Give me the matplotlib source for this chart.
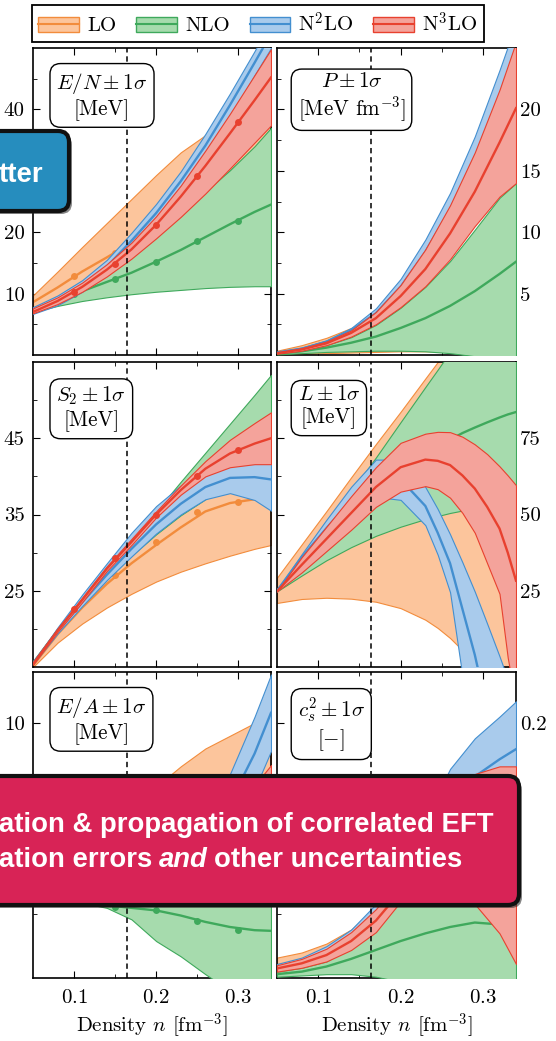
import numpy as np
import matplotlib
matplotlib.use("Agg")
import matplotlib.pyplot as plt
from matplotlib.patches import FancyBboxPatch, Patch
from matplotlib.lines import Line2D
from matplotlib.transforms import IdentityTransform

plt.rcParams.update({
    "font.family": "serif",
    "font.serif": ["cmr10"],
    "mathtext.fontset": "cm",
    "axes.formatter.use_mathtext": True,
    "axes.linewidth": 1.2,
    "xtick.direction": "in",
    "ytick.direction": "in",
    "xtick.top": True,
    "ytick.right": True,
    "xtick.major.size": 5,
    "ytick.major.size": 5,
    "xtick.minor.size": 3,
    "ytick.minor.size": 3,
    "font.size": 15,
})

W, H = 556, 1041

DENSITY = [0.05, 0.08, 0.11, 0.14, 0.17, 0.20, 0.23, 0.26, 0.29, 0.32, 0.34]
L_DENSITY = [0.05, 0.08, 0.11, 0.14, 0.17, 0.20, 0.23, 0.245, 0.26, 0.275,
             0.29, 0.305, 0.32, 0.33, 0.34]
MARKER_DENSITY = [0.10, 0.15, 0.20, 0.25, 0.30]
N_SAT = 0.164

ORDERS = ["LO", "NLO", r"N$^2$LO", r"N$^3$LO"]
LINE_COLORS = ["#f28c3c", "#3fa95c", "#438fd0", "#e8412f"]
FILL_COLORS = ["#fcc59c", "#a6dbad", "#a9cbec", "#f4a39b"]

# each band: [lower, center, upper]
EN_LO = [[7.4, 8.4, 9.6, 10.9, 12.2, 13.5, 14.8, 16.0, 17.2, 18.4, 19.2],
         [8.6, 11.0, 13.6, 15.9, 18.3, 20.7, 23.1, 25.5, 27.9, 30.3, 31.9],
         [9.7, 13.6, 17.6, 21.5, 25.4, 29.3, 33.0, 35.8, 39.5, 43.0, 45.5]]
EN_NLO = [[7.0, 8.0, 8.8, 9.4, 9.9, 10.3, 10.6, 10.9, 11.1, 11.2, 11.2],
          [7.3, 8.8, 10.4, 11.9, 13.4, 15.2, 17.1, 19.2, 21.3, 23.3, 24.5],
          [7.6, 9.6, 12.0, 14.5, 17.3, 20.2, 23.4, 26.6, 30.1, 34.0, 37.0]]
EN_N2LO = [[6.7, 8.1, 10.3, 13.3, 17.2, 21.6, 26.6, 32.1, 38.7, 45.6, 50.0],
           [7.3, 8.9, 11.3, 14.4, 18.6, 23.1, 28.3, 34.1, 40.7, 47.6, 52.3],
           [7.8, 9.7, 12.2, 15.5, 19.9, 24.6, 29.9, 36.0, 42.6, 49.5, 54.5]]
EN_N3LO = [[6.8, 8.3, 10.3, 12.8, 15.7, 19.0, 22.5, 26.3, 30.4, 34.6, 37.4],
           [7.0, 8.8, 11.1, 13.9, 17.2, 21.2, 25.8, 30.8, 36.1, 41.5, 45.2],
           [7.6, 9.4, 11.8, 14.8, 18.3, 22.6, 27.6, 33.3, 39.3, 45.6, 49.8]]
EN_MARKERS = [[12.8, 16.6, 20.7, 24.7, 28.7],
              [10.0, 12.4, 15.2, 18.5, 21.9],
              None,
              [10.3, 14.9, 21.2, 29.1, 37.9]]

P_LO = [[0.05, 0.1, 0.15, 0.2, 0.25, 0.3, 0.3, 0.25, 0.2, 0.1, 0.0],
        [0.2, 0.45, 0.8, 1.2, 1.7, 2.3, 3.0, 3.8, 4.6, 5.5, 6.1],
        [0.35, 0.8, 1.4, 2.2, 3.2, 4.4, 5.8, 7.3, 9.0, 10.8, 12.0]]
P_NLO = [[0.05, 0.15, 0.25, 0.3, 0.35, 0.35, 0.3, 0.15, -0.1, -0.5, -0.8],
         [0.1, 0.3, 0.6, 1.0, 1.5, 2.2, 3.0, 4.0, 5.2, 6.6, 7.6],
         [0.15, 0.4, 0.8, 1.45, 2.45, 3.85, 5.55, 7.65, 10.2, 12.8, 14.0]]
P_N2LO = [[0.15, 0.45, 0.95, 1.8, 3.0, 4.9, 7.4, 10.5, 14.3, 19.0, 22.5],
          [0.2, 0.52, 1.07, 2.0, 3.4, 5.55, 8.4, 11.85, 16.05, 21.1, 24.75],
          [0.25, 0.6, 1.2, 2.2, 3.8, 6.2, 9.4, 13.2, 17.8, 23.2, 27.0]]
P_N3LO = [[0.1, 0.35, 0.8, 1.5, 2.5, 3.9, 5.6, 7.8, 10.5, 12.9, 14.0],
          [0.15, 0.45, 0.95, 1.8, 3.0, 4.8, 7.0, 9.9, 13.3, 17.3, 20.1],
          [0.2, 0.55, 1.1, 2.0, 3.5, 5.7, 8.6, 12.2, 16.5, 21.6, 25.5]]

S2_LO = [[15.0, 18.2, 20.7, 22.8, 24.6, 26.2, 27.5, 28.6, 29.6, 30.5, 31.0],
         [15.2, 19.3, 22.8, 25.9, 28.6, 31.0, 33.3, 35.4, 36.5, 37.0, 37.0],
         [15.4, 19.8, 23.8, 27.5, 30.9, 34.0, 36.4, 37.8, 38.0, 37.5, 37.0]]
S2_NLO = [[15.4, 19.6, 23.3, 26.6, 29.6, 32.4, 34.9, 37.0, 38.8, 40.3, 41.2],
          [15.5, 19.8, 23.6, 27.2, 30.6, 33.9, 37.1, 40.1, 42.9, 45.5, 47.2],
          [15.6, 20.0, 23.9, 27.8, 31.6, 35.4, 39.3, 43.1, 46.9, 50.7, 53.3]]
S2_N2LO = [[15.4, 19.4, 23.0, 26.4, 29.5, 32.5, 35.0, 37.0, 37.8, 36.9, 35.5],
           [15.5, 19.7, 23.5, 27.1, 30.5, 33.7, 36.4, 38.6, 39.8, 39.9, 39.6],
           [15.6, 20.2, 24.5, 28.6, 32.6, 36.1, 38.8, 40.6, 41.8, 42.9, 43.6]]
S2_N3LO = [[15.3, 19.6, 23.5, 27.6, 31.0, 34.6, 37.6, 40.0, 41.2, 41.6, 41.6],
           [15.4, 19.8, 23.8, 27.9, 31.4, 35.0, 38.2, 41.0, 43.0, 44.3, 45.0],
           [15.5, 20.0, 24.1, 28.2, 31.8, 35.4, 38.8, 42.0, 44.8, 47.0, 48.4]]
S2_MARKERS = [[22.4, 27.0, 31.4, 35.3, 36.7], None, None,
              [22.6, 29.3, 35.0, 40.1, 43.4]]

# L uses the finer L_DENSITY grid
L_LO = [[21.0, 22.3, 22.7, 22.4, 21.4, 19.3, 15.5, 12.8, 9.5, 5.5, 1.0,
         -4.0, -9.0, -13.0, -17.0],
        [25.2, 31.2, 36.8, 42.2, 47.0, 51.5, 55.0, 56.3, 57.5, 58.2, 58.8,
         59.0, 59.0, 59.0, 58.9],
        [29.3, 40.2, 51.1, 62.2, 73.1, 83.7, 94.6, 100.0, 105.4, 111.0, 116.5,
         122.0, 127.4, 131.0, 134.7]]
L_NLO = [[24.8, 30.0, 35.0, 39.3, 43.0, 46.0, 48.5, 49.5, 50.5, 51.3, 52.0,
          52.5, 53.0, 53.3, 53.5],
         [25.0, 33.5, 41.5, 49.0, 56.0, 62.5, 68.5, 71.6, 74.5, 76.7, 78.5,
          80.2, 81.8, 82.8, 83.6],
         [24.8, 35.7, 46.6, 57.6, 68.7, 80.3, 91.8, 97.5, 103.3, 109.1, 115.0,
          120.8, 126.7, 130.5, 134.4]]
L_N2LO = [[24.8, 35.0, 42.8, 49.8, 55.8, 54.8, 46.5, 36.8, 24.5, -3.0, -30.0,
           -50.0, -60.0, -70.0, -80.0],
          [25.0, 36.0, 45.5, 54.5, 62.0, 61.5, 52.8, 44.0, 34.0, 19.0, 4.0,
           -14.0, -28.0, -37.0, -46.0],
          [25.3, 37.0, 48.3, 59.1, 68.0, 68.0, 59.0, 51.8, 43.5, 34.3, 24.7,
           14.2, 3.5, -4.0, -12.0]]
L_N3LO = [[24.8, 31.0, 38.0, 45.0, 52.5, 57.5, 59.3, 58.3, 55.5, 50.5, 44.0,
           34.0, 24.0, 3.0, -12.0],
          [24.8, 33.5, 42.0, 50.5, 59.0, 65.5, 68.0, 67.6, 66.2, 62.8, 58.5,
           52.5, 45.4, 37.5, 28.3],
          [24.8, 36.0, 46.0, 56.0, 65.5, 73.5, 76.5, 77.1, 77.0, 75.5, 73.0,
           69.8, 65.8, 62.8, 59.6]]

EA_LO = [[-3.5, -3.5, -3.4, -3.2, -3.0, -2.7, -2.3, -2.0, -1.5, -1.0, -0.7],
         [-2.8, -2.3, -1.6, -0.8, 0.0, 1.1, 2.2, 3.0, 4.1, 5.0, 5.6],
         [-2.0, -1.0, 0.2, 1.5, 3.0, 5.0, 6.6, 8.0, 9.0, 10.0, 10.8]]
EA_NLO = [[-3.5, -3.8, -4.1, -4.5, -5.4, -7.1, -8.3, -9.7, -11.0, -12.5, -13.5],
          [-3.3, -3.7, -4.0, -4.3, -4.5, -4.7, -5.1, -5.6, -6.0, -6.25, -6.3],
          [-3.1, -3.2, -3.1, -2.9, -2.6, -2.2, -1.8, -1.5, -1.0, -0.5, -0.3]]
EA_N2LO = [[-3.6, -3.8, -3.9, -3.9, -3.7, -3.2, -2.0, -0.5, 1.5, 4.8, 7.8],
           [-3.3, -3.5, -3.55, -3.45, -3.05, -2.25, -0.75, 1.25, 3.75, 7.6, 10.8],
           [-3.0, -3.2, -3.2, -3.0, -2.4, -1.3, 0.5, 3.0, 6.0, 10.5, 13.8]]
EA_N3LO = [[-3.5, -3.8, -3.9, -3.8, -3.5, -3.0, -2.2, -1.2, 0.0, 1.7, 3.3],
           [-3.3, -3.6, -3.7, -3.6, -3.2, -2.5, -1.5, -0.2, 1.4, 3.4, 5.0],
           [-3.1, -3.4, -3.5, -3.4, -2.9, -2.0, -0.8, 0.8, 2.8, 5.1, 6.7]]
EA_MARKERS = [None, [-3.9, -4.4, -4.7, -5.5, -6.2], None, None]

CS_LO = [[0.004, 0.005, 0.007, 0.008, 0.008, 0.005, 0.0, -0.005, -0.01, -0.015, -0.02],
         [0.010, 0.013, 0.017, 0.023, 0.031, 0.040, 0.049, 0.058, 0.067, 0.075, 0.080],
         [0.016, 0.020, 0.027, 0.038, 0.055, 0.075, 0.098, 0.122, 0.145, 0.165, 0.178]]
CS_NLO = [[0.001, 0.002, 0.003, 0.003, 0.001, -0.003, -0.01, -0.02, -0.03, -0.04, -0.05],
          [0.003, 0.005, 0.009, 0.015, 0.022, 0.029, 0.035, 0.040, 0.0435, 0.042, 0.039],
          [0.005, 0.008, 0.013, 0.024, 0.045, 0.075, 0.100, 0.120, 0.135, 0.145, 0.150]]
CS_N2LO = [[0.006, 0.009, 0.015, 0.025, 0.040, 0.062, 0.090, 0.112, 0.128, 0.138, 0.142],
           [0.0085, 0.0125, 0.020, 0.0315, 0.049, 0.075, 0.1075, 0.138, 0.158, 0.1715, 0.1795],
           [0.011, 0.016, 0.025, 0.038, 0.058, 0.088, 0.125, 0.164, 0.188, 0.205, 0.217]]
CS_N3LO = [[0.005, 0.008, 0.013, 0.022, 0.036, 0.060, 0.070, 0.072, 0.058, 0.035, 0.011],
           [0.0075, 0.0115, 0.018, 0.029, 0.045, 0.068, 0.088, 0.104, 0.110, 0.100, 0.088],
           [0.010, 0.015, 0.023, 0.036, 0.054, 0.078, 0.108, 0.137, 0.160, 0.166, 0.166]]

NO_MARKERS = [None, None, None, None]

PANELS = [
    # (row, col, density, bands, markers, ylim, major ticks, major labels,
    #  minor ticks, label)
    (0, 0, DENSITY, [EN_LO, EN_NLO, EN_N2LO, EN_N3LO], EN_MARKERS, (0, 50),
     [10, 20, 30, 40], ["10", "20", "", "40"], [5, 15, 25, 35, 45],
     "$E/N \\pm 1\\sigma$\n[MeV]"),
    (0, 1, DENSITY, [P_LO, P_NLO, P_N2LO, P_N3LO], NO_MARKERS, (0, 25),
     [5, 10, 15, 20], ["5", "10", "15", "20"], [2.5, 7.5, 12.5, 17.5, 22.5],
     "$P \\pm 1\\sigma$\n[MeV fm$^{-3}$]"),
    (1, 0, DENSITY, [S2_LO, S2_NLO, S2_N2LO, S2_N3LO], S2_MARKERS, (15, 55),
     [25, 35, 45], ["25", "35", "45"], [20, 30, 40, 50],
     "$S_2 \\pm 1\\sigma$\n[MeV]"),
    (1, 1, L_DENSITY, [L_LO, L_NLO, L_N2LO, L_N3LO], NO_MARKERS, (0, 100),
     [25, 50, 75], ["25", "50", "75"], [12.5, 37.5, 62.5, 87.5],
     "$L \\pm 1\\sigma$\n[MeV]"),
    (2, 0, DENSITY, [EA_LO, EA_NLO, EA_N2LO, EA_N3LO], EA_MARKERS, (-10, 14),
     [0, 10], ["", "10"], [-5, 5],
     "$E/A \\pm 1\\sigma$\n[MeV]"),
    (2, 1, DENSITY, [CS_LO, CS_NLO, CS_N2LO, CS_N3LO], NO_MARKERS, (0, 0.24),
     [0.2], ["0.2"], [0.05, 0.1, 0.15],
     "$c_s^2 \\pm 1\\sigma$\n[$-$]"),
]

COL_X = [(33, 271), (277, 516)]
ROW_Y = [(48, 355), (362, 667), (672, 978)]

fig = plt.figure(figsize=(W / 100, H / 100), dpi=100)

for row, col, dens, bands, markers, ylim, major, labels, minor, label in PANELS:
    x0, x1 = COL_X[col]
    y0, y1 = ROW_Y[row]
    ax = fig.add_axes([x0 / W, 1 - y1 / H, (x1 - x0) / W, (y1 - y0) / H])
    for k, (lo, mid, hi) in enumerate(bands):
        z = 2 + k
        ax.fill_between(dens, lo, hi, facecolor=FILL_COLORS[k],
                        edgecolor=LINE_COLORS[k], linewidth=0.8, zorder=z)
        ax.plot(dens, mid, color=LINE_COLORS[k], lw=1.7, zorder=z)
        if markers[k] is not None:
            ax.plot(MARKER_DENSITY, markers[k], "o", color=LINE_COLORS[k],
                    ms=5, mec="none", zorder=z)
    ax.axvline(N_SAT, color="k", lw=1.1, ls=(0, (3.5, 2.5)), zorder=10)
    ax.set_xlim(0.05, 0.34)
    ax.set_ylim(*ylim)
    ax.set_xticks([0.1, 0.2, 0.3])
    ax.set_xticks([0.15, 0.25], minor=True)
    ax.set_yticks(major, labels=labels)
    ax.set_yticks(minor, minor=True)
    ax.tick_params(which="both", top=True, right=True, left=True)
    if col == 1:
        ax.tick_params(axis="y", labelleft=False, labelright=True, pad=3)
    else:
        ax.tick_params(axis="y", pad=6)
    if row == 2:
        ax.tick_params(axis="x", pad=8)
        ax.set_xlabel("Density $n$ [fm$^{-3}$]", labelpad=3)
    else:
        ax.tick_params(axis="x", labelbottom=False)
    bx = 0.098 if col == 0 else 0.086
    ax.text(bx, 0.925, label, transform=ax.transAxes, ha="left", va="top",
            multialignment="center", fontsize=15.2, zorder=20,
            bbox=dict(boxstyle="round,pad=0.3,rounding_size=0.5",
                      fc="white", ec="k", lw=1.0))

handles = [(Patch(facecolor=FILL_COLORS[k], edgecolor=LINE_COLORS[k], lw=1.0),
            Line2D([], [], color=LINE_COLORS[k], lw=1.5)) for k in range(4)]
leg = fig.legend(handles, ORDERS, loc="upper left",
                 bbox_to_anchor=(32 / W, 1 - 5 / H), ncol=4, fontsize=15,
                 fancybox=False, edgecolor="k", framealpha=1,
                 handlelength=1.95, handleheight=0.75, handletextpad=0.4,
                 columnspacing=0.95, borderpad=0.3, borderaxespad=0)
leg.get_frame().set_linewidth(1.3)

# slide overlays on top of the figure
ident = IdentityTransform()
overlay_font = dict(family="Liberation Sans", weight="bold", color="white",
                    fontsize=19.8, transform=ident, zorder=31)


def slide_box(x, top, w, h, color):
    y = H - top - h
    shadow = FancyBboxPatch((x + 3, y - 3), w, h,
                            boxstyle="round,pad=0,rounding_size=11",
                            transform=ident, fc="#222222", ec="none",
                            alpha=0.55, zorder=29)
    box = FancyBboxPatch((x, y), w, h, boxstyle="round,pad=0,rounding_size=11",
                         transform=ident, fc=color, ec="#111111", lw=3,
                         zorder=30)
    fig.add_artist(shadow)
    fig.add_artist(box)


slide_box(-20, 131, 89, 80, "#268dbe")
fig.text(43, H - 175, "tter", ha="right", va="center", **overlay_font)

slide_box(-20, 776, 539, 129, "#d82356")
fig.text(-1, H - 825, "ation & propagation of correlated EFT",
         ha="left", va="center", **overlay_font)

renderer = fig.canvas.get_renderer()
x = -1
for piece, style in [("ation errors", "normal"), ("and", "italic"),
                     ("other uncertainties", "normal")]:
    t = fig.text(x, H - 860, piece, ha="left", va="center", style=style,
                 **overlay_font)
    x = t.get_window_extent(renderer).x1 + 6.5

fig.savefig("out.png", dpi=100)
